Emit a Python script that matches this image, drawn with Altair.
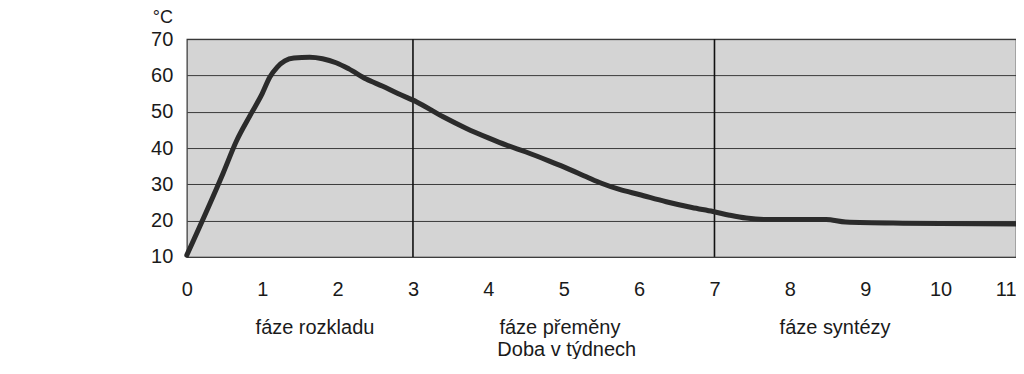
import altair as alt
import pandas as pd

# Temperature curve (weeks, °C)
weeks = [0.0, 0.48, 0.66, 0.84, 1.0, 1.1, 1.2, 1.3, 1.42, 1.63, 1.8, 1.98, 2.15, 2.38, 2.6, 2.8, 3.05, 3.4,
         3.71, 4.0, 4.24, 4.5, 4.81, 5.0, 5.3, 5.5, 5.74, 6.0, 6.36, 6.7, 6.98, 7.2, 7.42, 7.68, 8.48, 8.74,
         9.5, 11.0]
temps = [10.5, 33.0, 42.0, 49.0, 55.0, 59.5, 62.3, 64.0, 64.8, 65.0, 64.6, 63.5, 61.8, 59.0, 57.0, 55.0, 52.7,
         48.6, 45.4, 42.8, 40.8, 38.9, 36.4, 34.8, 32.1, 30.3, 28.6, 27.2, 25.2, 23.6, 22.5, 21.5, 20.7, 20.3,
         20.3, 19.6, 19.3, 19.1]

x_ticks = list(range(0, 12))
y_ticks = [10, 20, 30, 40, 50, 60, 70]
phase_bounds = [3, 7]
phase_names = ["fáze rozkladu", "fáze přeměny", "fáze syntézy"]
phase_centers = [1.70, 4.95, 8.6]
x_title = "Doba v týdnech"
x_title_pos = [5.04]
y_title = "°C"

FONT = "Liberation Sans"
TXT = "#1a1a1a"

curve = pd.DataFrame({"week": weeks, "temp": temps})
bounds = pd.DataFrame({"week": phase_bounds})
phases = pd.DataFrame({"week": phase_centers, "name": phase_names})
title_df = pd.DataFrame({"week": x_title_pos, "name": [x_title]})

xscale = alt.Scale(domain=[0, 11], nice=False, zero=False)
yscale = alt.Scale(domain=[10, 70], nice=False, zero=False)

last_tick = x_ticks[-1]

line = alt.Chart(curve).mark_line(color="#2b2b2b", strokeWidth=5, interpolate="monotone",
                                  strokeCap="round", strokeJoin="round").encode(
    x=alt.X("week:Q", scale=xscale,
            axis=alt.Axis(values=x_ticks, format="d", title=None, grid=False, ticks=False, domain=False,
                          labelFont=FONT, labelFontSize=20, labelColor=TXT, labelPadding=23,
                          labelFlush=False,
                          labelAlign={"condition": {"test": f"datum.value == {last_tick}", "value": "right"},
                                      "value": "center"})),
    y=alt.Y("temp:Q", scale=yscale,
            axis=alt.Axis(values=y_ticks, title=None, grid=True, gridColor="#3a3a3a", gridWidth=1,
                          ticks=False, domain=False, labelFont=FONT, labelFontSize=20,
                          labelColor=TXT, labelPadding=14)),
)

rules = alt.Chart(bounds).mark_rule(color="#111111", strokeWidth=1.6).encode(x=alt.X("week:Q", scale=xscale))

phase_text = alt.Chart(phases).mark_text(font=FONT, fontSize=20, color=TXT, baseline="middle").encode(
    x=alt.X("week:Q", scale=xscale), y=alt.value(289), text="name:N")

title_text = alt.Chart(title_df).mark_text(font=FONT, fontSize=20, color=TXT, baseline="middle").encode(
    x=alt.X("week:Q", scale=xscale), y=alt.value(311), text="name:N")

ytitle = alt.Chart(pd.DataFrame({"t": [y_title]})).mark_text(font=FONT, fontSize=18, color=TXT,
                                                             baseline="middle", align="center").encode(
    x=alt.value(-24), y=alt.value(-21), text="t:N")

chart = alt.layer(rules, line, phase_text, title_text, ytitle).properties(
    width=830, height=218,
    autosize=alt.AutoSizeParams(type="none"),
    padding={"left": 179, "top": 31, "right": 0, "bottom": 102},
    background="white",
).configure_view(
    fill="#d4d4d4", stroke="#333333", strokeWidth=1.2
)

chart.save("out.html", embed_options={"renderer": "svg", "actions": False})
